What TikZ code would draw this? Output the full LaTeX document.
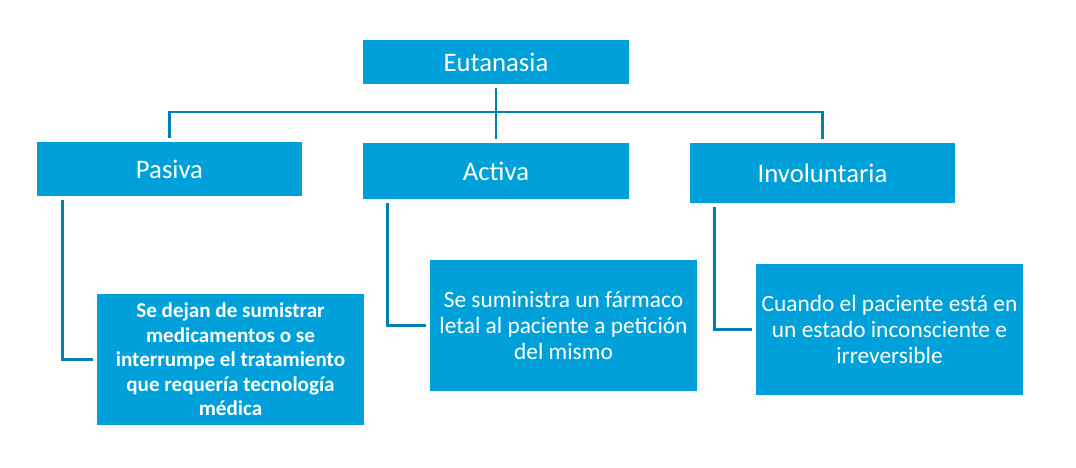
\documentclass[tikz,border=0pt]{standalone}
\usepackage{fontspec}
\setmainfont{Carlito}
\usetikzlibrary{positioning, calc}
\definecolor{boxblue}{RGB}{0,161,219}
\definecolor{lineblue}{RGB}{0,128,178}

\begin{document}
\begin{tikzpicture}[x=0.02cm, y=-0.02cm,
	head/.style={fill=boxblue, text=white, minimum width=5.32cm, inner sep=0pt,
		font=\fontsize{15.2}{18}\selectfont},
	info/.style={fill=boxblue, text=white, minimum width=5.34cm, minimum height=2.62cm,
		inner sep=0pt, align=center, font=\fontsize{13.3}{14.7}\selectfont},
	link/.style={draw=lineblue, line width=1.7pt, shorten <=2pt, shorten >=2pt}]
	
	%Frame
	\useasboundingbox (0,0) rectangle (1076,467);
	
	%Root
	\node (eut) at(496,62) [head, minimum height=0.88cm]{Eutanasia};
	
	%Kinds
	\node (pas) at(169.5,169) [head, minimum height=1.08cm]{Pasiva};
	\node (act) at(496,171) [head, minimum height=1.12cm]{Activa};
	\node (inv) at(822.5,173) [head, minimum height=1.2cm]{Involuntaria};
	
	%Descriptions
	\node (pasInfo) at(230.5,359.5) [info, font=\fontsize{12}{13.9}\selectfont\bfseries]{Se dejan de sumistrar\\ medicamentos o se\\ interrumpe el tratamiento\\ que requería tecnología\\ médica};
	\node (actInfo) at(563.5,325.5) [info]{Se suministra un fármaco\\ letal al paciente a petición\\ del mismo};
	\node (invInfo) at(889.5,329.5) [info]{Cuando el paciente está en\\ un estado inconsciente e\\ irreversible};
	
	%Tree links
	\coordinate (hub) at(496,112);
	\draw[link] (eut) -- (act);
	\draw[link] (pas.north) |- (hub) -| (inv.north);
	
	%Side links
	\draw[link] ([xshift=0.52cm]pas.south west) |- (pasInfo.west);
	\draw[link] ([xshift=0.5cm]act.south west) |- (actInfo.west);
	\draw[link] ([xshift=0.5cm]inv.south west) |- (invInfo.west);
	
\end{tikzpicture}
\end{document}
